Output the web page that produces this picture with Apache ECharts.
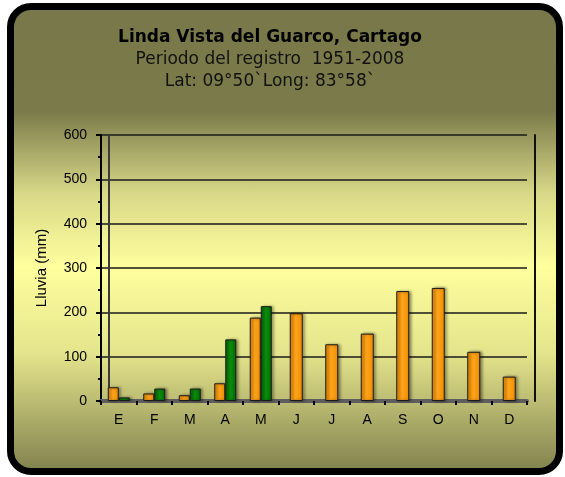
<!DOCTYPE html>
<html>
<head>
<meta charset="utf-8">
<script src="https://cdn.jsdelivr.net/npm/echarts@6/dist/echarts.min.js"></script>
<style>
  html, body { margin: 0; padding: 0; background: #fff; }
  #frame {
    position: absolute; left: 7px; top: 3px; width: 556px; height: 472px;
    box-sizing: border-box; border: 7px solid #000; border-radius: 24px;
    background: linear-gradient(to bottom, #78784a 0%, #7a7a4a 22%, #d8d888 40%, #ffff9e 56%, #e4e48c 75%, #848450 100%);
  }
  #chart { position: absolute; left: 0; top: 0; width: 565px; height: 477px; }
</style>
</head>
<body>
<div id="frame"></div>
<div id="chart"></div>
<script>
// meses
const months = ['E', 'F', 'M', 'A', 'M', 'J', 'J', 'A', 'S', 'O', 'N', 'D']
// lluvia promedio (mm), serie naranja
const rainOrange = [31, 17, 13, 40, 188, 198, 128, 152, 248, 255, 111, 55]
// serie verde, solo enero a mayo
const rainGreen = [8, 28, 28, 139, 214]
const yTicks = { min: 0, max: 600, step: 100 }

const nPair = rainGreen.length
// los meses con dos barras van en el eje 0, los de una sola barra en el eje 1
const orangePair = rainOrange.map((v, i) => (i < nPair ? v : null))
const orangeSingle = rainOrange.map((v, i) => (i < nPair ? null : v))
const greenData = months.map((m, i) => (i < nPair ? rainGreen[i] : null))

const barShadow = {
  borderColor: '#1a1a1a',
  borderWidth: 1,
  shadowBlur: 3,
  shadowColor: 'rgba(0,0,0,0.45)',
  shadowOffsetX: 2,
  shadowOffsetY: 0
}
function cyl(dark, light) {
  return new echarts.graphic.LinearGradient(0, 0, 1, 0, [
    { offset: 0, color: dark },
    { offset: 0.45, color: light },
    { offset: 1, color: dark }
  ])
}

const chart = echarts.init(document.getElementById('chart'))
chart.setOption({
  backgroundColor: 'transparent',
  animation: false,
  title: {
    text: 'Linda Vista del Guarco, Cartago',
    subtext: 'Periodo del registro  1951-2008\nLat: 09°50`Long: 83°58`',
    left: 265,
    top: 24,
    textAlign: 'center',
    itemGap: 3,
    textStyle: {
      fontFamily: 'DejaVu Sans',
      fontWeight: 'bold',
      fontSize: 17,
      color: '#000'
    },
    subtextStyle: {
      fontFamily: 'DejaVu Sans',
      fontSize: 17,
      lineHeight: 22,
      color: '#111'
    }
  },
  grid: {
    left: 101,
    right: 38,
    top: 135,
    bottom: 76
  },
  xAxis: [{
    type: 'category',
    data: months,
    axisLine: { lineStyle: { color: '#5e5e5e', width: 4 } },
    axisTick: { show: true, length: 4, lineStyle: { color: '#000', width: 2 } },
    axisLabel: {
      margin: 12,
      fontFamily: 'Liberation Sans',
      fontSize: 14,
      color: '#000'
    },
    splitLine: { show: false }
  }, {
    type: 'category',
    data: months,
    show: false
  }],
  yAxis: [{
    type: 'value',
    min: yTicks.min,
    max: yTicks.max,
    interval: yTicks.step,
    name: 'Lluvia (mm)',
    nameLocation: 'middle',
    nameGap: 52,
    nameTextStyle: { fontFamily: 'Liberation Sans', fontSize: 15, color: '#000' },
    axisLine: { show: true, lineStyle: { color: '#000', width: 2 } },
    axisTick: { show: true, length: 5, lineStyle: { color: '#000', width: 2 } },
    minorTick: { show: true, splitNumber: 2, length: 3, lineStyle: { color: '#000', width: 2 } },
    axisLabel: {
      margin: 14,
      fontFamily: 'Liberation Sans',
      fontSize: 14,
      color: '#000'
    },
    splitLine: { show: true, lineStyle: { color: '#1a1a1a', width: 1.5 } }
  }, {
    // pared del fondo, lado izquierdo
    type: 'value',
    position: 'left',
    offset: -8,
    min: yTicks.min,
    max: yTicks.max,
    interval: yTicks.step,
    axisLine: { show: true, lineStyle: { color: '#3a3a3a', width: 2 } },
    axisTick: { show: false },
    axisLabel: { show: false },
    splitLine: { show: false }
  }, {
    // pared del fondo, lado derecho
    type: 'value',
    position: 'right',
    offset: 8,
    min: yTicks.min,
    max: yTicks.max,
    interval: yTicks.step,
    axisLine: { show: true, lineStyle: { color: '#111', width: 2 } },
    axisTick: { show: false },
    axisLabel: { show: false },
    splitLine: { show: false }
  }],
  series: [{
    name: 'naranja',
    type: 'bar',
    xAxisIndex: 0,
    barWidth: 11,
    barGap: '0%',
    itemStyle: Object.assign({ color: cyl('#ee8c00', '#ffa51c') }, barShadow),
    data: orangePair
  }, {
    name: 'verde',
    type: 'bar',
    xAxisIndex: 0,
    barWidth: 11,
    itemStyle: Object.assign({ color: cyl('#006a00', '#0d900d') }, barShadow),
    data: greenData
  }, {
    name: 'naranja2',
    type: 'bar',
    xAxisIndex: 1,
    barWidth: 13,
    itemStyle: Object.assign({ color: cyl('#ee8c00', '#ffa51c') }, barShadow),
    data: orangeSingle
  }]
})
</script>
</body>
</html>
